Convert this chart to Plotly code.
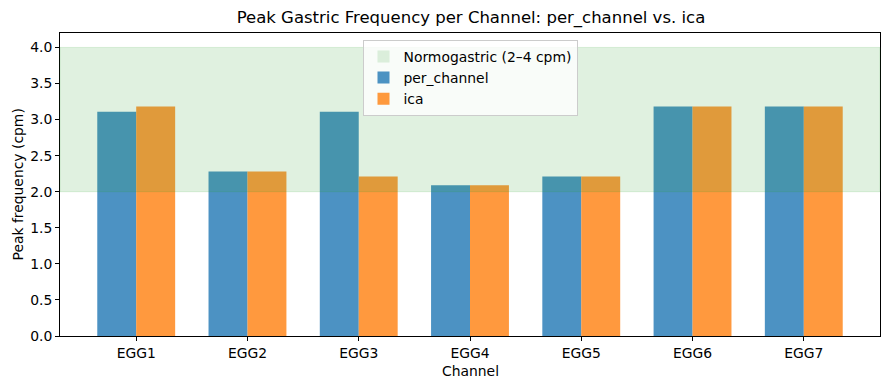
import plotly.graph_objects as go

channels = ["EGG1", "EGG2", "EGG3", "EGG4", "EGG5", "EGG6", "EGG7"]
per_channel = [3.11, 2.28, 3.11, 2.09, 2.21, 3.18, 3.18]
ica = [3.18, 2.28, 2.21, 2.09, 2.21, 3.18, 3.18]
band_low, band_high = 2.0, 4.0
y_ticks = [0.0, 0.5, 1.0, 1.5, 2.0, 2.5, 3.0, 3.5, 4.0]

font = "DejaVu Sans"
xi = list(range(len(channels)))

fig = go.Figure()
fig.add_trace(go.Bar(
    x=[None], y=[None], name="Normogastric (2–4 cpm)",
    marker=dict(color="rgba(44,160,44,0.15)", line=dict(width=0)),
    showlegend=True,
))
fig.add_trace(go.Bar(
    x=xi, y=per_channel, name="per_channel", width=0.35, offset=-0.35,
    marker=dict(color="rgba(31,119,180,0.8)", line=dict(width=0)),
))
fig.add_trace(go.Bar(
    x=xi, y=ica, name="ica", width=0.35, offset=0.0,
    marker=dict(color="rgba(255,127,14,0.8)", line=dict(width=0)),
))

fig.add_shape(type="rect", xref="paper", x0=0, x1=1, yref="y", y0=band_low, y1=band_high,
              fillcolor="rgba(44,160,44,0.15)", line=dict(color="rgba(44,160,44,0.15)", width=1),
              layer="above")

fig.add_annotation(text="Channel", xref="paper", yref="paper", x=0.5, y=0,
                   yshift=-35, xanchor="center", yanchor="middle", showarrow=False,
                   font=dict(size=13.9, family=font, color="black"))
fig.add_annotation(text="Peak frequency (cpm)", xref="paper", yref="paper", x=0, y=0.5,
                   xshift=-43, xanchor="center", yanchor="middle", textangle=-90, showarrow=False,
                   font=dict(size=13.9, family=font, color="black"))

fig.update_layout(
    width=881, height=382,
    margin=dict(l=52, r=9, t=25, b=54, autoexpand=False),
    barmode="overlay",
    plot_bgcolor="white", paper_bgcolor="white",
    font=dict(family=font, size=13.9, color="black"),
    title=dict(text="Peak Gastric Frequency per Channel: per_channel vs. ica",
               x=0.5255, xanchor="center", y=0.976, yanchor="middle",
               font=dict(size=16.5, family=font, color="black")),
    legend=dict(x=0.5, xanchor="center", y=0.977, yanchor="top",
                bgcolor="rgba(255,255,255,0.8)", bordercolor="#cccccc", borderwidth=1,
                font=dict(size=13.9, family=font), traceorder="normal",
                tracegroupgap=0, itemwidth=30),
    showlegend=True,
)
fig.update_xaxes(
    range=[-0.685, 6.685], tickmode="array", tickvals=xi, ticktext=channels,
    showgrid=False, zeroline=False, showline=True, linecolor="black", linewidth=1, mirror=True,
    ticks="outside", ticklen=4, tickcolor="black", automargin=False,
)
fig.update_yaxes(
    range=[0, 4.2], tickmode="array", tickvals=y_ticks, ticktext=[f"{v:.1f}" for v in y_ticks],
    showgrid=False, zeroline=False, showline=True, linecolor="black", linewidth=1, mirror=True,
    ticks="outside", ticklen=4, tickcolor="black", automargin=False,
)

fig.write_html("out.html")
